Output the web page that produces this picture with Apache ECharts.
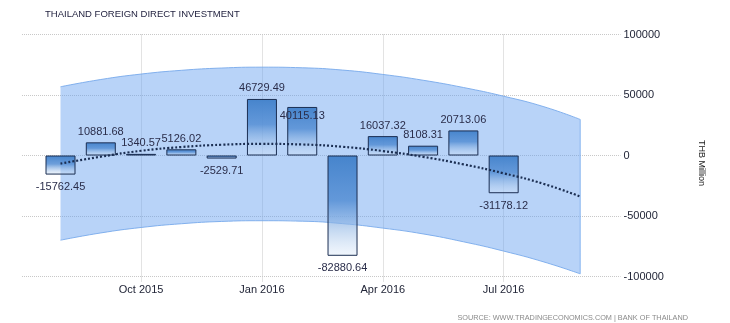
<!DOCTYPE html>
<html><head><meta charset="utf-8">
<script src="https://cdn.jsdelivr.net/npm/echarts@6/dist/echarts.min.js"></script>
<style>html,body{margin:0;padding:0;background:#fff}#c{width:730px;height:323px}</style>
</head><body><div id="c"></div>
<script>
// ---- data ----
const months = ['Aug 2015','Sep 2015','Oct 2015','Nov 2015','Dec 2015','Jan 2016','Feb 2016','Mar 2016','Apr 2016','May 2016','Jun 2016','Jul 2016'];
const fdi = [-15762.45, 10881.68, 1340.57, 5126.02, -2529.71, 46729.49, 40115.13, -82880.64, 16037.32, 8108.31, 20713.06, -31178.12];
const tickMonths = ['Oct 2015','Jan 2016','Apr 2016','Jul 2016'];
const yTicks = [-100000, -50000, 0, 50000, 100000];
// trend / forecast band, x in months since Aug 2015
const trendX    = [0, 1, 2, 3, 4, 5, 6, 7, 8, 9, 10, 11, 12, 12.9];
const trend     = [-6700, -1000, 3900, 7000, 8900, 9600, 9100, 7200, 3700, -1100, -7300, -14700, -23500, -33900];
const bandUpper = [56800, 62800, 67300, 70400, 72300, 73000, 72500, 70600, 67000, 62200, 56200, 49000, 40300, 29800];
const bandLower = [-70000, -64000, -59500, -56400, -54500, -53900, -54300, -56300, -60000, -64800, -71300, -79000, -88000, -97800];
const title = 'THAILAND FOREIGN DIRECT INVESTMENT';
const source = 'SOURCE: WWW.TRADINGECONOMICS.COM | BANK OF THAILAND';
const unit = 'THB Million';

const chart = echarts.init(document.getElementById('c'), null, {renderer: 'canvas'});
const FONT = 'Liberation Sans';
const tickIdx = tickMonths.map(m => months.indexOf(m));
const last = trendX.length - 1;

const barGrad = new echarts.graphic.LinearGradient(0, 0, 0, 1, [
  {offset: 0, color: 'rgba(70,132,204,1)'},
  {offset: 0.45, color: 'rgba(84,142,212,0.85)'},
  {offset: 1, color: 'rgba(215,230,248,0.35)'}
]);

const barData = fdi.map((v, i) => {
  let pos = v < 0 ? 'bottom' : 'top';
  let dist = v < 0 ? 7 : 5;
  if (i === 6) { pos = 'insideTop'; dist = 4; }
  return {value: [i, v], label: {position: pos, distance: dist}};
});

chart.setOption({
  animation: false,
  backgroundColor: '#fff',
  title: {
    text: title, left: 40, top: 4,
    textStyle: {fontFamily: FONT, fontSize: 9.5, fontWeight: 'normal', color: '#1e1e3c'}
  },
  grid: {left: 22, right: 109.5, top: 34.5, bottom: 46.5, containLabel: false},
  xAxis: {
    type: 'value', min: -0.956, max: 13.9,
    axisLine: {show: false, onZero: false},
    axisTick: {show: true, customValues: tickIdx, length: 6, lineStyle: {color: '#c8c8c8', type: 'dotted'}},
    axisLabel: {customValues: tickIdx, formatter: v => months[Math.round(v)] || '', margin: 8,
      fontFamily: FONT, fontSize: 11, color: '#222638'},
    splitLine: {show: true, lineStyle: {color: '#c8c8c8', type: 'dotted'}}
  },
  yAxis: {
    type: 'value', position: 'right', min: yTicks[0], max: yTicks[yTicks.length - 1], interval: 50000,
    axisLine: {show: false}, axisTick: {show: false},
    axisLabel: {margin: 3, fontFamily: FONT, fontSize: 11, color: '#222638', formatter: v => String(v)},
    splitLine: {show: true, lineStyle: {color: '#c8c8c8', type: 'dotted'}}
  },
  graphic: [
    {type: 'text', x: 701, y: 163, rotation: -Math.PI / 2,
     style: {text: unit, fontFamily: FONT, fontSize: 9, fill: '#222', textAlign: 'center', textVerticalAlign: 'middle'}},
    {type: 'text', x: 688, y: 318,
     style: {text: source, fontFamily: FONT, fontSize: 7.3, fill: '#8a8a8a', textAlign: 'right', textVerticalAlign: 'middle'}}
  ],
  series: [
    {
      // value first so that the stacked dimension is the y value
      type: 'line', name: 'lower', stack: 'band', stackStrategy: 'all', smooth: true, symbol: 'none', z: 1,
      encode: {x: 1, y: 0},
      data: trendX.map((x, i) => [bandLower[i], x]),
      lineStyle: {color: 'rgba(120,170,235,0.9)', width: 1}
    },
    {
      type: 'line', name: 'band', stack: 'band', stackStrategy: 'all', smooth: true, symbol: 'none', z: 1,
      encode: {x: 1, y: 0},
      data: trendX.map((x, i) => [bandUpper[i] - bandLower[i], x]),
      lineStyle: {color: 'rgba(120,170,235,0.9)', width: 1},
      areaStyle: {color: 'rgba(100,160,240,0.46)', opacity: 1}
    },
    {
      type: 'line', name: 'edge', symbol: 'none', z: 1,
      data: [[trendX[last], bandLower[last]], [trendX[last], bandUpper[last]]],
      lineStyle: {color: 'rgba(130,178,238,0.9)', width: 1}
    },
    {
      type: 'bar', name: 'FDI', barWidth: 30, z: 2,
      data: barData,
      itemStyle: {color: barGrad, borderColor: '#1b2e52', borderWidth: 1},
      label: {show: true, formatter: p => p.value[1].toFixed(2), fontFamily: FONT, fontSize: 11, color: '#2a2d4a'}
    },
    {
      type: 'line', name: 'trend', smooth: true, symbol: 'none', z: 3,
      data: trendX.map((x, i) => [x, trend[i]]),
      lineStyle: {color: '#1b2e52', width: 2.2, type: [2, 2]}
    }
  ]
});
</script></body></html>
